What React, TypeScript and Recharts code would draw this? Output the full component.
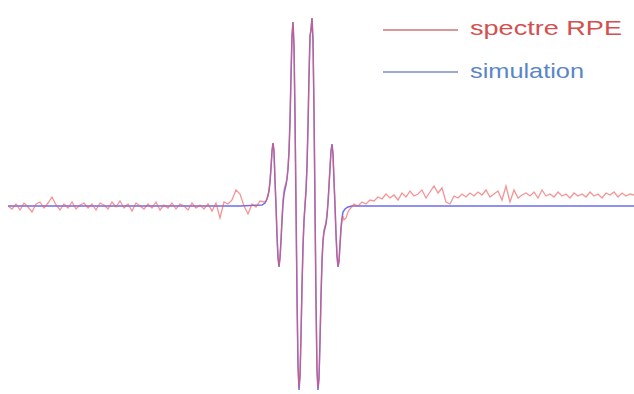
import { LineChart, Line, XAxis, YAxis } from 'recharts';

// field positions (arbitrary units) and signal for the measured EPR spectrum
const rpeField = [
  8, 12, 16, 20, 24, 28, 32, 36, 40, 44, 48, 52, 56, 60, 64, 68, 72, 76, 80, 84,
  88, 92, 96, 100, 104, 108, 112, 116, 120, 124, 128, 132, 136, 140, 144, 148, 152, 156, 160, 164,
  168, 172, 176, 180, 184, 188, 192, 196, 200, 204, 208, 212, 216, 220, 224, 228, 232, 236, 240, 244,
  248, 252, 256, 260, 264,
  266, 268, 269, 270, 271, 272, 273, 274, 275, 276, 277, 278, 279, 280, 281, 282, 283, 284, 285, 286,
  287, 288, 289, 290, 291, 292, 293, 294, 295, 296, 297, 298, 299, 300, 301, 302, 303, 304, 305, 306,
  307, 308, 309, 310, 311, 312, 313, 314, 315, 316, 317, 318, 319, 320, 321, 322, 323, 324, 325, 326,
  327, 328, 329, 330, 331, 332, 333, 334, 335, 336, 337, 338, 339, 340, 341, 342, 343, 344, 346, 348,
  350, 354, 358, 362, 366, 370, 374, 378, 382, 386, 390, 394, 398, 402, 406, 410, 414, 418, 422, 426,
  430, 434, 438, 442, 446, 450, 454, 458, 462, 466, 470, 474, 478, 482, 486, 490, 494, 498, 502, 506,
  510, 514, 518, 522, 526, 530, 534, 538, 542, 546, 550, 554, 558, 562, 566, 570, 574, 578, 582, 586,
  590, 594, 598, 602, 606, 610, 614, 618, 622, 626, 630, 634,
];

const rpe = [
  0, -3, 2, -4, 3, -1, -6, 2, 4, -2, 3, 9, 1, -4, 2, -2, 4, -3, 1, 3,
  -2, 2, -4, 3, 1, -3, 4, -1, 5, -2, 2, -5, 3, 0, -3, 2, -2, 4, -4, 1,
  -2, 3, -3, 2, 0, -4, 3, -2, 1, -3, 2, -5, 3, -12, 4, 2, 6, 16, 12, 0,
  -8, 2, -1, 5, 4,
  5, 10, 16, 25, 38, 54, 63, 55, 26, 2, -28, -50, -60, -52, -34, -12, 6, 16, 20, 23,
  28, 38, 55, 84, 128, 170, 184, 160, 92, 2, -88, -158, -182, -170, -130, -82, -42, -14, 2, 16,
  40, 80, 128, 168, 178, 188, 166, 96, 2, -94, -164, -182, -172, -136, -92, -56, -34, -24, -20, -16,
  -8, 4, 20, 38, 54, 61, 52, 26, 2, -27, -49, -60, -56, -40, -24, -14, -10, -14, -12, -6,
  -3, 2, 0, 4, 2, 6, 5, 9, 7, 12, 8, 11, 6, 13, 9, 15, 10, 12, 16, 8,
  14, 20, 13, 18, 4, 2, 10, 8, 12, 9, 13, 10, 14, 11, 16, 9, 12, 15, 6, 20,
  4, 16, 8, 11, 13, 10, 14, 8, 16, 10, 12, 9, 14, 10, 12, 8, 13, 10, 12, 9,
  14, 10, 12, 8, 13, 11, 14, 9, 13, 10, 12, 11,
];

// simulated spectrum
const simField = [
  8, 120, 240, 262, 265, 267, 269, 270, 271, 272, 273, 274, 275, 276, 277, 278, 279, 280, 281, 282,
  283, 284, 285, 286, 287, 288, 289, 290, 291, 292, 293, 294, 295, 296, 297, 298, 299, 300, 301, 302,
  303, 304, 305, 306, 307, 308, 309, 310, 311, 312, 313, 314, 315, 316, 317, 318, 319, 320, 321, 322,
  323, 324, 325, 326, 327, 328, 329, 330, 331, 332, 333, 334, 335, 336, 337, 338, 339, 340, 341, 342,
  343, 345, 348, 352, 450, 634,
];

const sim = [
  0, 0, 0, 1, 3, 7, 15, 24, 38, 55, 63, 55, 25, 0, -30, -52, -61, -52, -35, -15,
  2, 12, 17, 21, 27, 37, 54, 85, 130, 170, 184, 160, 90, 0, -90, -160, -184, -170, -130, -80,
  -40, -15, 0, 15, 40, 80, 130, 170, 176, 188, 165, 95, 0, -95, -165, -184, -172, -135, -90, -55,
  -35, -26, -22, -18, -10, 3, 20, 38, 55, 62, 52, 25, 0, -28, -50, -61, -55, -38, -22, -12,
  -6, -3, -1, 0, 0, 0,
];

const rpeData = rpeField.map((field, i) => ({ field, value: rpe[i] }));
const simData = simField.map((field, i) => ({ field, value: sim[i] }));

export default function App() {
  return (
    <div style={{ position: 'absolute', left: 0, top: 0, width: 634, height: 394, background: '#fff' }}>
      <LineChart width={634} height={394} margin={{ top: 0, right: 0, left: 0, bottom: 0 }}>
        <XAxis type="number" dataKey="field" domain={[0, 634]} hide />
        <YAxis type="number" domain={[-188, 206]} hide />
        <Line data={simData} dataKey="value" type="linear" stroke="#6a6cf0" strokeWidth={1.5} dot={false} activeDot={false} isAnimationActive={false} />
        <Line data={rpeData} dataKey="value" type="linear" stroke="#f05a5a" strokeWidth={1.3} strokeOpacity={0.65} dot={false} activeDot={false} isAnimationActive={false} />
      </LineChart>
      <svg width={634} height={394} style={{ position: 'absolute', left: 0, top: 0, pointerEvents: 'none' }}>
        <line x1={383} x2={458} y1={30} y2={30} stroke="#d27474" strokeWidth={1.5} />
        <text x={470} y={35} fontFamily="Liberation Sans, Arial, sans-serif" fontSize={21} fill="#d4504f" textLength={152} lengthAdjust="spacingAndGlyphs">spectre RPE</text>
        <line x1={383} x2={458} y1={72} y2={72} stroke="#7c8cc4" strokeWidth={1.5} />
        <text x={470} y={78} fontFamily="Liberation Sans, Arial, sans-serif" fontSize={21} fill="#5a86c6" textLength={114} lengthAdjust="spacingAndGlyphs">simulation</text>
      </svg>
    </div>
  );
}
